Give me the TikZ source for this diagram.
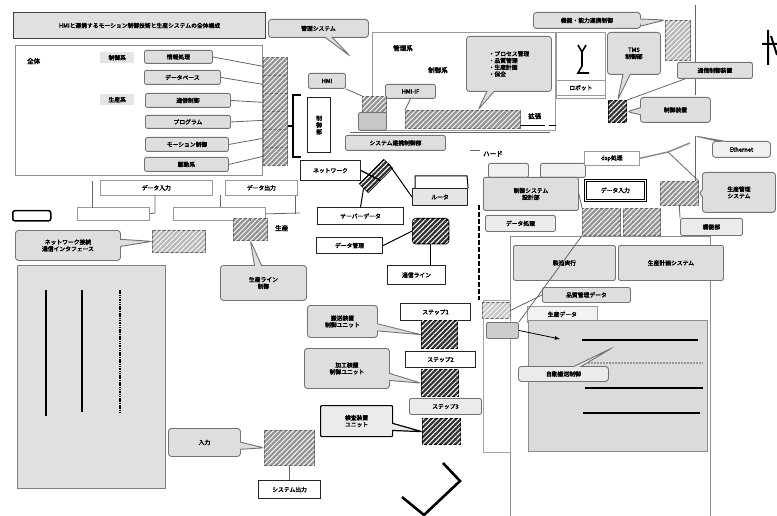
\documentclass[tikz,border=0pt]{standalone}
\usepackage{fontspec}
\newfontfamily\jp{Noto Sans CJK JP}[FakeBold=2.6]
\usetikzlibrary{shapes.callouts,patterns.meta}
\begin{document}
\begin{tikzpicture}[x=1pt,y=-1pt,
  every node/.style={font=\jp\fontsize{5.8}{6.8}\selectfont, inner sep=0pt, align=center, anchor=north west},
  gbox/.style={draw=black!55, fill=black!13, rounded corners=2pt, line width=0.9pt},
  wbox/.style={draw=black!85, fill=white, line width=1.1pt},
  lbox/.style={draw=black!40, fill=white, line width=0.7pt},
  hatchL/.style={draw=black!60, fill=black!42, line width=0.7pt, postaction={pattern={Lines[angle=45,distance=3.5pt,line width=0.9pt]}, pattern color=white}},
  hatchD/.style={draw=black, line width=1.3pt, fill=black!80, postaction={pattern={Lines[angle=45,distance=3.5pt,line width=1pt]}, pattern color=white}},
  call/.style={rectangle callout, draw=black!55, fill=black!13, rounded corners=3pt, line width=0.9pt},
  conn/.style={draw=black!60, line width=0.8pt},
  dconn/.style={draw=black, line width=1pt},
  lbl/.style={font=\jp\fontsize{6.5}{7.5}\selectfont}
]
\useasboundingbox (0,0) rectangle (777,516);
\fill[white] (0,0) rectangle (777,516);

% ---------------- left top ----------------
\node[draw=black!75, fill=black!12, line width=1.1pt, minimum width=252pt, minimum height=26pt] (title) at (13,12) {HMIと連携するモーション制御技術と生産システムの全体構成};
\node[call, minimum width=100pt, minimum height=18pt, callout absolute pointer={(350,56)}] (c1) at (268,19) {管理システム};

\node[draw=black!45, fill=white, line width=0.8pt, minimum width=247pt, minimum height=130pt] (big) at (15,45) {};
\node[lbl] (t1) at (27,58) {全体};
\node[fill=black!10, minimum width=34pt, minimum height=11pt] (t2) at (100,52) {制御系};
\node[fill=black!10, minimum width=34pt, minimum height=11pt] (t3) at (100,94) {生産系};

\node[gbox, minimum width=68pt, minimum height=13pt] (r1) at (144,50) {情報処理};
\node[gbox, minimum width=76pt, minimum height=14pt] (r2) at (144,70) {データベース};
\node[gbox, minimum width=85pt, minimum height=14pt] (r3) at (145,93) {通信制御};
\node[gbox, minimum width=85pt, minimum height=13pt] (r4) at (145,115) {プログラム};
\node[gbox, minimum width=83pt, minimum height=14pt] (r5) at (145,137) {モーション制御};
\node[gbox, minimum width=84pt, minimum height=14pt] (r6) at (144,157) {駆動系};

\node[hatchL, minimum width=24pt, minimum height=18pt] (k1) at (263,57) {};
\node[hatchL, minimum width=24pt, minimum height=18pt] (k2) at (263,75) {};
\node[hatchL, minimum width=24pt, minimum height=18pt] (k3) at (263,93) {};
\node[hatchL, minimum width=24pt, minimum height=18pt] (k4) at (263,111) {};
\node[hatchL, minimum width=24pt, minimum height=18pt] (k5) at (263,129) {};
\node[hatchL, minimum width=24pt, minimum height=18pt] (k6) at (263,147) {};
\draw[conn] (r1.east) -- (k1.west);
\draw[conn] (r2.east) -- (k2.west);
\draw[conn] (r3.east) -- (k3.west);
\draw[conn] (r4.east) -- (k4.west);
\draw[conn] (r5.east) -- (k5.west);
\draw[conn] (r6.east) -- (k6.west);

\coordinate (br1) at (301,95);
\coordinate (br2) at (301,157);
\draw[dconn, line width=1.3pt] (br1) -- (293,95) -- (293,157) -- (br2);
\draw[dconn, line width=1.3pt] (293,126) -- (k4.east |- 0,126);
\node[wbox, minimum width=23pt, minimum height=55pt] (ctl) at (307,97) {制\\御\\部};

\node[lbox, minimum width=112pt, minimum height=15pt] (b1) at (100,180) {データ入力};
\node[lbox, minimum width=72pt, minimum height=15pt] (b2) at (225,180) {データ出力};
\node[lbox, minimum width=72pt, minimum height=13pt] (b3) at (77,207) {};
\node[lbox, minimum width=92pt, minimum height=13pt] (b4) at (173,207) {};
\draw[conn] (big.south west -| b1.west) ++(-8,5) -- ++(0,27);
\draw[conn] (155,195) -- (155,213) -- (b3.east);
\draw[conn] (220,195) -- (220,207);
\draw[conn] (b2.south east) ++(-2,0) -- ++(0,18);
\draw[conn] (b4.east) -- (300,213);

\node[draw=black, fill=white, line width=1.5pt, rounded corners=2pt, minimum width=38pt, minimum height=10pt] (sm) at (12,210) {};

\node[hatchL, fill=black!28, minimum width=53pt, minimum height=22pt] (h2) at (152,230) {};
\node[call, minimum width=105pt, minimum height=30pt, callout absolute pointer={(h2.west)}] (c2) at (15,230) {ネットワーク接続\\通信インタフェース};

\node[hatchL, minimum width=34pt, minimum height=22pt] (h3) at (233,218) {};
\node[lbl] (t4) at (275,225) {生産};
\draw[conn] (h3.north) -- (h3.north |- b4.south);
\node[call, minimum width=86pt, minimum height=35pt, callout absolute pointer={(h3.south)}] (c3) at (220,265) {生産ライン\\制御};

\node[draw=black!50, fill=black!12, line width=1pt, minimum width=148pt, minimum height=223pt] (pan) at (17,265) {};
\draw[line width=2.8pt] (46,290) -- (46,416);
\draw[line width=1.6pt] (82,290) -- (82,412);
\draw[line width=2.4pt, dash pattern=on 1.5pt off 0.8pt] (120,290) -- (120,413);

\node[hatchL, minimum width=50pt, minimum height=35pt] (h4) at (264,430) {};
\node[call, minimum width=72pt, minimum height=28pt, callout absolute pointer={(h4.west)}] (c4) at (168,428) {入力};
\node[wbox, minimum width=62pt, minimum height=18pt] (out) at (258,480) {システム出力};
\draw[conn] (h4.south) -- (out.north -| h4.south);

% ---------------- middle top ----------------
\node[gbox, minimum width=37pt, minimum height=15pt] (hmi) at (308,73) {HMI};
\node[draw=black!40, line width=0.7pt, minimum width=183pt, minimum height=98pt] (reg) at (372,32) {};
\node[lbl] (t5) at (393,45) {管理系};
\node[lbl] (t6) at (428,67) {制御系};
\node[hatchL, minimum width=115pt, minimum height=18pt] (h6) at (405,110) {};
\node[call, minimum width=85pt, minimum height=55pt, align=left, callout absolute pointer={(478,110)}] (c5) at (466,36) {・プロセス管理\\・品質管理\\・生産計画\\・保全};
\node[gbox, minimum width=50pt, minimum height=14pt] (hif) at (385,84) {HMI-IF};
\node[hatchL, minimum width=24pt, minimum height=16pt] (h5) at (362,96) {};
\node[gbox, fill=black!22, minimum width=28pt, minimum height=18pt] (h5b) at (358,112) {};
\draw[conn] (hmi.south east) -- (h5.north west);
\draw[conn] (hif.south) -- (h6.north west);
\node[gbox, minimum width=100pt, minimum height=15pt] (sys) at (345,135) {システム連携制御部};
\node[lbl] (t7) at (528,113) {拡張};
\draw[line width=1pt] (520,126) -- (545,126) (549,126) -- (556,126);
\draw[conn] (350,132) -- (550,132);

% ---------------- top right ----------------
\node[hatchL, fill=black!28, minimum width=25pt, minimum height=40pt] (h7) at (665,20) {};
\node[call, minimum width=107pt, minimum height=16pt, callout absolute pointer={(h7.north west)}] (c6) at (533,12) {機能・能力連携制御};
\node[lbox, minimum width=49pt, minimum height=66pt] (rob) at (556,32) {};
\node[lbox, minimum width=49pt, minimum height=15pt] (robl) at (556,80) {ロボット};
\draw[line width=1.6pt] (578,45) -- (582,52) -- (586,45) (582,52) -- (582,66) -- (578,73) -- (589,73);
\node[hatchD, minimum width=18pt, minimum height=22pt] (h8) at (608,100) {};
\node[call, minimum width=53pt, minimum height=42pt, callout absolute pointer={(h8.north)}] (c7) at (607,32) {TMS\\制御部};
\draw[conn] (695,5) -- (695,95);
\node[gbox, minimum width=75pt, minimum height=16pt] (dev) at (677,62) {通信制御装置};
\node[call, minimum width=70pt, minimum height=25pt, callout absolute pointer={(h8.east)}] (c9) at (640,97) {制御装置};
\draw[conn] (dev.south west) ++(8,0) -- (h8.north east);
\draw[line width=2pt] (768,30) -- (768,65) (762,44) -- (777,44) (771,36) -- (777,55);

% ---------------- center ----------------
\node[wbox, minimum width=60pt, minimum height=20pt] (net) at (300,160) {ネットワーク};
\node[hatchD, rotate=45, minimum width=34pt, minimum height=12pt, anchor=center] (hd1) at (376,176) {};
\draw[dconn, line width=1.3pt] (net.east) -- (hd1.south);
\node[wbox, fill=black!10, minimum width=55pt, minimum height=17pt] (rt) at (412,188) {ルータ};
\draw[dconn] (hd1.east) -- (rt.west);
\draw[dconn] (415,188) -- (415,176) -- (467,176) -- (rt.north east);
\node[wbox, minimum width=86pt, minimum height=17pt] (srv) at (317,207) {サーバーデータ};
\draw[dconn] (hd1.west) -- (srv.north);
\node[wbox, minimum width=66pt, minimum height=16pt] (dm) at (316,237) {データ管理};
\node[hatchD, rounded corners=3pt, minimum width=36pt, minimum height=25pt] (hd2) at (412,218) {};
\draw[dconn] (dm.east) -- (hd2.west);
\node[wbox, minimum width=58pt, minimum height=19pt] (line) at (387,265) {通信ライン};
\draw[dconn] (hd2.south) -- (line.north -| hd2.south);
\draw[line width=2pt, dash pattern=on 5pt off 2pt] (479,205) -- (479,300);
\node[lbl] (t8) at (483,151) {ハード};

\node[wbox, minimum width=70pt, minimum height=17pt] (s1) at (400,303) {ステップ1};
\node[hatchD, minimum width=36pt, minimum height=28pt] (hd3) at (421,320) {};
\node[wbox, minimum width=70pt, minimum height=16pt] (s2) at (405,351) {ステップ2};
\node[hatchD, minimum width=37pt, minimum height=27pt] (hd4) at (421,369) {};
\node[gbox, fill=black!8, minimum width=72pt, minimum height=16pt] (s3) at (409,398) {ステップ3};
\node[hatchD, minimum width=38pt, minimum height=26pt] (hd5) at (422,418) {};
\node[call, minimum width=70pt, minimum height=32pt, callout absolute pointer={(hd3.west)}] (c11) at (307,305) {搬送装置\\制御ユニット};
\node[call, minimum width=85pt, minimum height=40pt, callout absolute pointer={(hd4.west)}] (c12) at (304,348) {加工装置\\制御ユニット};
\node[call, draw=black, fill=black!8, rounded corners=1pt, line width=1.2pt, minimum width=72pt, minimum height=31pt, callout absolute pointer={(hd5.west)}] (c13) at (320,405) {検査装置\\ユニット};
\draw[line width=2.6pt] (402,497) -- (424,515) -- (460,481) -- (443,463);

% ---------------- right middle ----------------
\node[gbox, minimum width=40pt, minimum height=14pt, fill=black!6] (u1) at (488,163) {};
\node[gbox, minimum width=45pt, minimum height=14pt, fill=black!6] (u2) at (540,163) {};
\node[lbox, minimum width=55pt, minimum height=14pt] (dsp) at (584,151) {dsp処理};
\node[gbox, minimum width=95pt, minimum height=33pt] (csd) at (483,177) {制御システム\\設計部};
\node[draw=black, double, double distance=1pt, fill=white, line width=0.7pt, minimum width=60pt, minimum height=20pt] (din) at (585,180) {データ入力};
\node[hatchL, minimum width=38pt, minimum height=24pt] (h9) at (660,181) {};
\node[call, minimum width=73pt, minimum height=40pt, callout absolute pointer={(h9.east)}] (c14) at (702,172) {生産管理\\システム};
\node[gbox, fill=black!8, minimum width=70pt, minimum height=16pt] (dp) at (485,215) {データ処理};
\node[hatchL, minimum width=38pt, minimum height=27pt] (h10) at (582,208) {};
\node[hatchL, minimum width=37pt, minimum height=27pt] (h11) at (623,208) {};
\node[gbox, fill=black!8, minimum width=62pt, minimum height=17pt] (fn) at (680,218) {機能部};
\draw[conn] (fn.north west) -- (h9.south);
\node[call, minimum width=58pt, minimum height=16pt, fill=black!6, callout absolute pointer={(695,136)}] (c10) at (712,141) {Ethernet};
\draw[conn] (695,136) -- (695,181);
\draw[conn, line width=1.5pt, black!45] (dsp.east) -- (668,152) -- (690,143);
\draw[conn] (668,152) -- (h9.north east);
\draw[conn] (csd.east) -- (h10.north west);
\draw[conn] (470,150) -- (480,150);

% ---------------- big right frame ----------------
\node[draw=black!45, line width=0.9pt, minimum width=200pt, minimum height=280pt] (frm) at (510,236) {};
\node[gbox, minimum width=102pt, minimum height=35pt] (g1) at (513,245) {製造実行};
\node[gbox, minimum width=105pt, minimum height=35pt] (g2) at (618,245) {生産計画システム};
\node[gbox, minimum width=88pt, minimum height=15pt] (qd) at (542,287) {品質管理データ};
\node[lbox, fill=black!5, minimum width=70pt, minimum height=16pt] (pd) at (527,306) {生産データ};
\node[draw=black!45, fill=black!14, line width=0.9pt, minimum width=179pt, minimum height=131pt] (inr) at (528,320) {};
\draw[line width=2.4pt] (582,340) -- (698,340);
\draw[line width=1.8pt, black!40, dash pattern=on 2pt off 1pt] (585,363) -- (703,363);
\draw[line width=2.4pt] (585,388) -- (703,388);
\draw[line width=1.5pt] (583,413) -- (700,413);
\node[call, fill=black!8, minimum width=90pt, minimum height=15pt, callout absolute pointer={(612,348)}] (c15) at (518,366) {自動搬送制御};
\node[draw=black!35, line width=0.7pt, minimum width=27pt, minimum height=152pt] (col) at (483,300) {};
\node[hatchL, fill=black!22, minimum width=28pt, minimum height=16pt] (h12) at (482,302) {};
\node[gbox, fill=black!20, minimum width=32pt, minimum height=16pt] (h13) at (486,322) {};
\draw[conn] (h12.east) -- (qd.west);
\draw[conn, -latex, black] (h13.east) -- (560,339);
\draw[conn] (h10.south west) -- (h13.north east);
\end{tikzpicture}
\end{document}
